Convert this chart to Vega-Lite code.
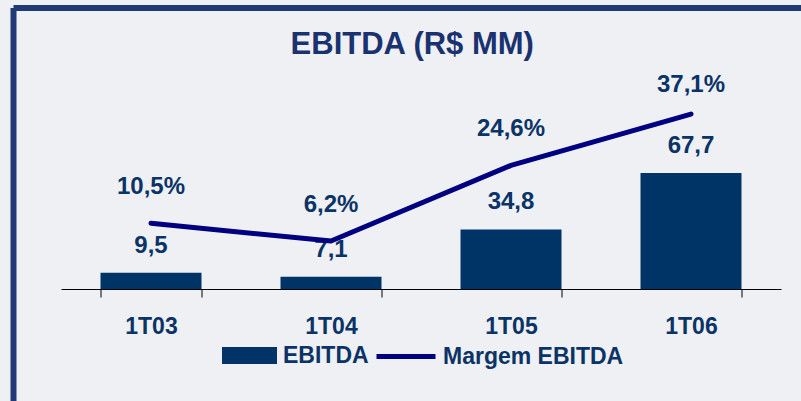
{
  "$schema": "https://vega.github.io/schema/vega-lite/v6.json",
  "autosize": "none",
  "width": 787.5,
  "height": 393,
  "padding": {"left": 13.5, "top": 8, "right": 0, "bottom": 0},
  "background": "#eef0f4",
  "title": {
    "text": "EBITDA (R$ MM)",
    "anchor": "middle",
    "frame": "group",
    "orient": "top",
    "baseline": "alphabetic",
    "offset": -77,
    "dx": 5,
    "font": "Liberation Sans",
    "fontSize": 31,
    "fontWeight": "bold",
    "color": "#1a3370"
  },
  "data": {
    "values": [
      {"q": "1T03", "ebitda": 9.5, "margem": 0.105},
      {"q": "1T04", "ebitda": 7.1, "margem": 0.062},
      {"q": "1T05", "ebitda": 34.8, "margem": 0.246},
      {"q": "1T06", "ebitda": 67.7, "margem": 0.371}
    ]
  },
  "encoding": {
    "x": {
      "field": "q",
      "type": "nominal",
      "sort": null,
      "scale": {"range": [47.5, 767.5], "paddingInner": 0.439, "paddingOuter": 0.2195},
      "axis": {
        "title": null,
        "orient": "bottom",
        "offset": -112,
        "labelAngle": 0,
        "ticks": true,
        "domain": true,
        "tickBand": "extent",
        "tickSize": 8,
        "tickColor": "#000000",
        "domainColor": "#000000",
        "tickWidth": 1,
        "domainWidth": 1,
        "tickOpacity": 1,
        "labelPadding": 18,
        "labelFont": "Liberation Sans",
        "labelFontSize": 23,
        "labelFontWeight": "bold",
        "labelColor": "#0b3366",
        "grid": false
      }
    }
  },
  "layer": [
    {
      "mark": {"type": "bar"},
      "encoding": {
        "y": {"field": "ebitda", "type": "quantitative", "scale": {"domain": [0, 164.04], "range": [281, 0], "nice": false, "zero": false}, "axis": null},
        "fill": {
          "datum": "EBITDA",
          "scale": {"range": ["#003366"]},
          "legend": {
            "title": null,
            "orient": "none",
            "legendX": 208.5,
            "legendY": 320,
            "symbolType": "M-1,-0.31H1V0.31H-1Z",
            "symbolSize": 3025,
            "symbolStrokeWidth": 0,
            "labelOffset": 6,
            "labelLimit": 300,
            "padding": 0,
            "labelFont": "Liberation Sans",
            "labelFontSize": 23,
            "labelFontWeight": "bold",
            "labelColor": "#0b3366"
          }
        }
      }
    },
    {
      "mark": {"type": "text", "dy": -20, "baseline": "alphabetic", "font": "Liberation Sans", "fontSize": 24, "fontWeight": "bold", "color": "#0b3366"},
      "encoding": {
        "y": {"field": "ebitda", "type": "quantitative", "scale": {"domain": [0, 164.04], "range": [281, 0], "nice": false, "zero": false}, "axis": null},
        "text": {"field": "ebitda", "type": "quantitative", "format": ".1f"}
      }
    },
    {
      "mark": {"type": "line", "strokeWidth": 5, "strokeCap": "round", "strokeJoin": "round"},
      "encoding": {
        "y": {"field": "margem", "type": "quantitative", "scale": {"domain": [-0.0547, 0.629], "range": [281, 0], "nice": false, "zero": false}, "axis": null},
        "stroke": {
          "datum": "Margem EBITDA",
          "scale": {"range": ["#000080"]},
          "legend": {
            "title": null,
            "orient": "none",
            "legendX": 360.5,
            "legendY": 316.5,
            "symbolType": "stroke",
            "symbolSize": 3481,
            "symbolStrokeWidth": 5,
            "labelOffset": 5,
            "labelLimit": 300,
            "padding": 0,
            "labelFont": "Liberation Sans",
            "labelFontSize": 23,
            "labelFontWeight": "bold",
            "labelColor": "#0b3366"
          }
        }
      }
    },
    {
      "transform": [{"filter": "datum.q !== '1T06'"}],
      "mark": {"type": "text", "dy": -29, "baseline": "alphabetic", "font": "Liberation Sans", "fontSize": 24, "fontWeight": "bold", "color": "#0b3366"},
      "encoding": {
        "y": {"field": "margem", "type": "quantitative", "scale": {"domain": [-0.0547, 0.629], "range": [281, 0], "nice": false, "zero": false}, "axis": null},
        "text": {"field": "margem", "type": "quantitative", "format": ".1%"}
      }
    },
    {
      "transform": [{"filter": "datum.q === '1T06'"}],
      "mark": {"type": "text", "dy": -22, "baseline": "alphabetic", "font": "Liberation Sans", "fontSize": 24, "fontWeight": "bold", "color": "#0b3366"},
      "encoding": {
        "y": {"field": "margem", "type": "quantitative", "scale": {"domain": [-0.0547, 0.629], "range": [281, 0], "nice": false, "zero": false}, "axis": null},
        "text": {"field": "margem", "type": "quantitative", "format": ".1%"}
      }
    }
  ],
  "resolve": {"scale": {"y": "independent"}},
  "config": {
    "locale": {"number": {"decimal": ",", "thousands": ".", "grouping": [3], "currency": ["R$ ", ""]}},
    "view": {"stroke": "#1f3a75", "strokeWidth": 6, "strokeDash": [787.5, 1180.5, 393, 0], "fill": null}
  }
}
